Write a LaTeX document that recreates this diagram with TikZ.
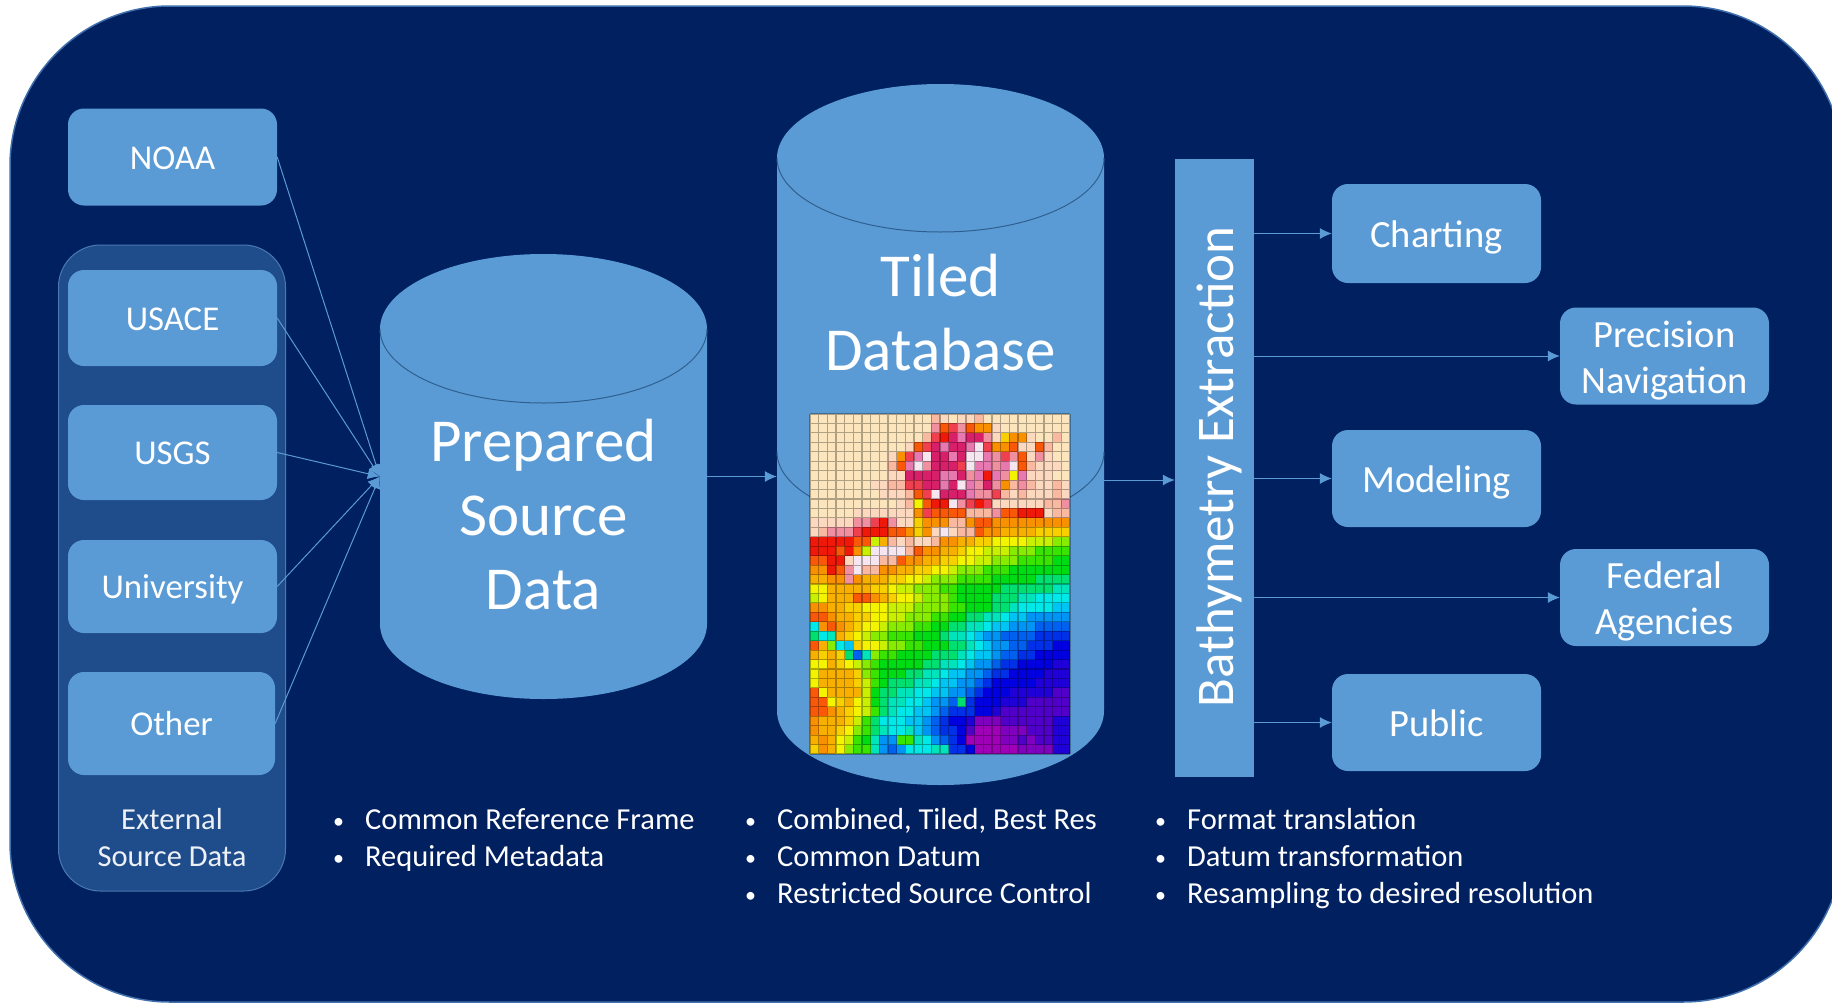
\documentclass[tikz,border=0pt]{standalone}
\usepackage{fontspec}
\setmainfont{Carlito}
\usetikzlibrary{arrows.meta}
\definecolor{navy}{HTML}{002060}
\definecolor{navyedge}{HTML}{3F6FAC}
\definecolor{boxblue}{HTML}{5B9BD5}
\definecolor{groupblue}{HTML}{1F4C8B}
\definecolor{groupedge}{HTML}{4A78B0}
\definecolor{cylline}{HTML}{2F5F90}
% heat-map palette
\definecolor{hmc}{HTML}{FCE4BC}\definecolor{hmk}{HTML}{FBD8BE}\definecolor{hmp}{HTML}{F9B8A0}
\definecolor{hmq}{HTML}{F08FA0}\definecolor{hml}{HTML}{E878B0}\definecolor{hmm}{HTML}{D8206A}
\definecolor{hmw}{HTML}{F6E6F0}\definecolor{hms}{HTML}{F04050}\definecolor{hmr}{HTML}{F01808}
\definecolor{hmo}{HTML}{F85808}\definecolor{hmO}{HTML}{F89000}\definecolor{hma}{HTML}{F8B000}
\definecolor{hmA}{HTML}{F8D000}\definecolor{hmy}{HTML}{F4F400}\definecolor{hmg}{HTML}{C8F000}
\definecolor{hmG}{HTML}{88EC00}\definecolor{hmh}{HTML}{38E400}\definecolor{hmi}{HTML}{00DC14}
\definecolor{hmj}{HTML}{00E070}\definecolor{hmt}{HTML}{00E4BC}\definecolor{hmT}{HTML}{00E8E8}
\definecolor{hmu}{HTML}{00C4F4}\definecolor{hmb}{HTML}{0094F4}\definecolor{hmB}{HTML}{0060F0}
\definecolor{hmd}{HTML}{0030E8}\definecolor{hme}{HTML}{0000E0}\definecolor{hmf}{HTML}{2000D8}
\definecolor{hmv}{HTML}{5000C8}\definecolor{hmn}{HTML}{8000C0}\definecolor{hmx}{HTML}{A000B8}
\newcount\hmX \newcount\hmY
\makeatletter
\def\hmrow#1{\hmX=0 \hm@scan#1\relax\global\advance\hmY by 1 }
\def\hm@scan#1{\ifx#1\relax\else
  \fill[hm#1] ({810+\the\hmX*8.667},{414+\the\hmY*9.444}) rectangle ++(8.8,9.6);
  \advance\hmX by 1 \expandafter\hm@scan\fi}
\makeatother
\newcommand{\bul}{\makebox[32pt][l]{\fontsize{22}{22}\selectfont\raisebox{1.5pt}{•}}}
\newcommand{\vbalrule}[1]{\rule[-10pt]{0pt}{\dimexpr 20pt+#1\relax}}
\newcommand{\vbtop}[1]{\rule{0pt}{\dimexpr 10pt+#1\relax}}
\tikzset{
  x=1pt,y=-1pt,
  vbal/.style={execute at begin node={\vbalrule{#1}}},
  box/.style={fill=boxblue,draw=none,rounded corners=16pt,text=white,inner sep=0pt,align=center,
    minimum width=209pt,minimum height=#1},
  box/.default=97pt,
  srcfont/.style={font=\fontsize{34.8}{40}\selectfont,vbal=24.8pt},
  outfont/.style={font=\fontsize{38.5}{46}\selectfont,vbal=28pt},
  bigfont/.style={text=white,align=center,font=\fontsize{61}{74}\selectfont},
  listfont/.style={text=white,align=left,inner sep=0pt,font=\fontsize{30.5}{37}\selectfont,vbal=19.6pt},
  link/.style={draw=boxblue,line width=1pt,-{Latex[length=12pt,width=11pt]}},
  cylarc/.style={draw=cylline,line width=1pt},
}
\begin{document}
\begin{tikzpicture}
\useasboundingbox (0,0) rectangle (1832,1002);
\fill[white] (0,0) rectangle (1832,1002);
\begin{scope}
\clip (0,0) rectangle (1832,1002);
\draw[fill=navy,draw=navyedge,line width=1.5pt,rounded corners=160pt] (10,6) rectangle (1843,1002);
\end{scope}

% source group
\node[fill=groupblue,draw=groupedge,line width=1pt,rounded corners=42pt,minimum width=227pt,minimum height=646pt,inner sep=0pt] (grp) at (172,568) {};
\node[box,srcfont] (noaa) at (172.5,157) {NOAA};
\node[box=96pt,srcfont] (usace) at (172.5,318) {USACE};
\node[box=95pt,srcfont] (usgs) at (172.5,452.5) {USGS};
\node[box=93pt,srcfont] (univ) at (172.5,586.5) {University};
\node[box=103pt,minimum width=207pt,srcfont] (other) at (171.5,723.5) {Other};
\node[text=white!92!groupblue,align=center,inner sep=0pt,font=\fontsize{30.5}{37}\selectfont,vbal=19.6pt] (grplabel) at (172,838.5) {\vbtop{19.6pt}External\\Source Data};

% prepared cylinder
\fill[boxblue] (380,329) arc[x radius=163.5pt,y radius=75pt,start angle=180,end angle=0]
  -- (707,624) arc[x radius=163.5pt,y radius=75pt,start angle=360,end angle=180] -- cycle;
\draw[cylarc] (380,329) arc[x radius=163.5pt,y radius=74pt,start angle=180,end angle=360];
\node[minimum width=327pt,minimum height=445pt,inner sep=0pt] (prep) at (543.5,476.5) {};
\node[bigfont] (preplabel) at (543.5,514.5) {Prepared\\Source\\Data};

% tiled cylinder
\fill[boxblue] (777,158) arc[x radius=163.5pt,y radius=74pt,start angle=180,end angle=0]
  -- (1104,711) arc[x radius=163.5pt,y radius=74pt,start angle=360,end angle=180] -- cycle;
\draw[cylarc] (777,158) arc[x radius=163.5pt,y radius=74pt,start angle=180,end angle=360];
\draw[cylarc] (777,452) arc[x radius=163.5pt,y radius=74pt,start angle=180,end angle=360];
\node[minimum width=327pt,minimum height=701pt,inner sep=0pt] (tiled) at (940.5,434.5) {};
\node[bigfont] (tiledlabel) at (940.5,312.5) {Tiled\\Database};

% heat map
\hmrow{cccccccccc ccccpkckkp cccccccccc}
\hmrow{cccccccccc ccccqosqoO Okcccccccc}
\hmrow{cccccccccc cccpsrmlmm qkAOOkccpc}
\hmrow{cccccccccc ckosmlmmlw sOOokkopcc}
\hmrow{ccccccccck Oslwmmlmww lqsqokqkcc}
\hmrow{cccccccccp olwqmmmswl lqlwopkkkc}
\hmrow{ccccccccck kmmmmllmql rlqylkkkcc}
\hmrow{ccccccckkp pssmmlmwlq mqOpqpkkpk}
\hmrow{cccccccckk kposwmmmlq qspkpkkkpk}
\hmrow{cccccccccc kpyorrwqsr skkkkkkppq}
\hmrow{ccccckkkkk kkOsoooopp pqoorrrkpp}
\hmrow{kkkkkqqsrq kkAOOOppOo oOOOOOOOOO}
\hmrow{kpqqqsrrro oOAOkwkppo OOaaaaAAAA}
\hmrow{rrrrroogap kpkkpOOaaA AyyyygggGG}
\hmrow{rrrorOgwww wpoOOaaAyy gggGGGhhhh}
\hmrow{oorrkwwwpp oOOaaAAyyg gGGGhhhhii}
\hmrow{OOroqwppOO aaAAyygGGG hhhiiiiiii}
\hmrow{aaOOqOaaaA AyygGGGhhh hiiiiijjjj}
\hmrow{yyaaaaaAAy ggGGGhhiii iijjjjjjtt}
\hmrow{gyaaaooOaA yygGGGhiii ijjjttTTTT}
\hmrow{OOaaAAyyyg ggGGGGhhii ijjtTTTTuu}
\hmrow{ooOaaAAyyg gGGGhhiijj ttTuubbbbb}
\hmrow{TOoOaAyygG GGhhiijjtt TuubbbBBBB}
\hmrow{jTtaAygGGh hhiiijttTu bbBBBBdddd}
\hmrow{oaGTuAyygG GhhiiijjtT ubbBBdddee}
\hmrow{aAaAjBtGhh iiiijjjtTu ubBBddeeee}
\hmrow{yyaAygGhii iiijjttTub bBddeeeeff}
\hmrow{yaaaaAGhii ijjttTuubb Bddeeeefff}
\hmrow{yaaaaAghij jjttTuubbB deeeeeffff}
\hmrow{oyaaaagijj ttTTuubbBd eeefffffvv}
\hmrow{ooyAaygijt tTTubbBjde eefffvvvvv}
\hmrow{ooOaAyghjt TTuubBddde efvvvvvvvv}
\hmrow{OaaaAghjTT TuubBdeefn nnvvvvvvff}
\hmrow{OaaAyGhjtT TtubBddevx xxnnnvvvff}
\hmrow{aOayghitbb hhtTbBdexx xxnnvnvvff}
\hmrow{AOayGhhtbB bTTTttddex xxxxnnnnff}
% heat-map grid
\draw[black,opacity=.3,line width=1.1pt]
  \foreach \gi in {0,...,30} {({810+\gi*8.667},414) -- ({810+\gi*8.667},754)}
  \foreach \gj in {0,...,36} {(810,{414+\gj*9.444}) -- (1070,{414+\gj*9.444})};

% extraction bar
\node[fill=boxblue,draw=none,minimum width=79pt,minimum height=618pt,inner sep=0pt] (bar) at (1214.5,468) {};
\node[text=white,rotate=90,inner sep=0pt,font=\fontsize{53}{60}\selectfont] (barlabel) at (1219.5,467) {Bathymetry Extraction};

% consumers
\node[box=99pt,outfont] (chart) at (1436.5,233.5) {Charting};
\node[box=97pt,outfont] (prec) at (1664.5,356) {\vbtop{28pt}Precision\\Navigation};
\node[box=97pt,outfont] (model) at (1436.5,478.5) {Modeling};
\node[box=97pt,outfont] (fed) at (1664.5,597.5) {\vbtop{28pt}Federal\\Agencies};
\node[box=97pt,outfont] (pub) at (1436.5,722.5) {Public};

% lists
\node[listfont,anchor=west] (list1) at (333,838.5) {\vbtop{19.6pt}\bul Common Reference Frame\\\bul Required Metadata};
\node[listfont,anchor=west] (list2) at (745,857) {\vbtop{19.6pt}\bul Combined, Tiled, Best Res\\\bul Common Datum\\\bul Restricted Source Control};
\node[listfont,anchor=west] (list3) at (1155,857) {\vbtop{19.6pt}\bul Format translation\\\bul Datum transformation\\\bul Resampling to desired resolution};

% connectors
\foreach \src in {noaa,usace,usgs,univ,other} \draw[link] (\src.east) -- (prep.west);
\draw[link] (prep.east) -- (prep.east -| tiled.west);
\coordinate (tbout) at (1104,480);
\draw[link] (tbout) -- (tbout -| bar.west);
\foreach \dst in {chart,prec,model,fed,pub} \draw[link] (bar.east |- \dst.west) -- (\dst.west);
\end{tikzpicture}
\end{document}
